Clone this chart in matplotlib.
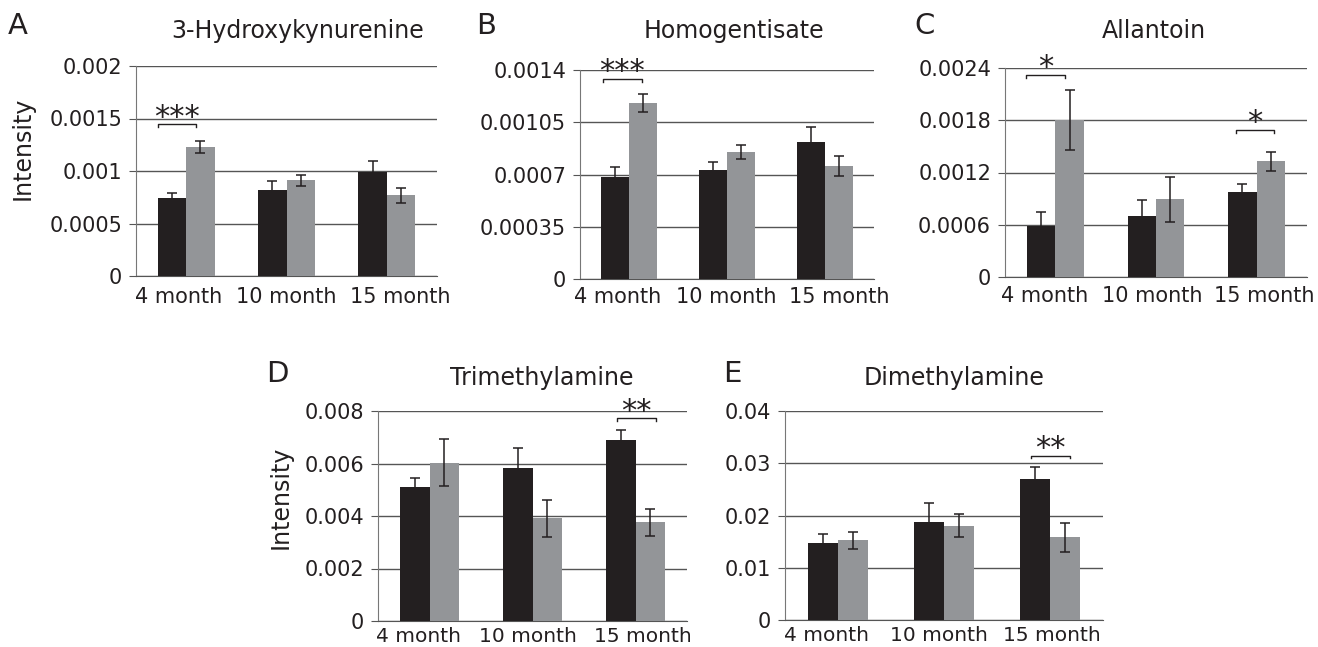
import numpy as np
import matplotlib.pyplot as plt

plt.rcParams['font.family'] = ['DejaVu Sans']

months = ['4 month', '10 month', '15 month']

# 3-Hydroxykynurenine
hk_dark = [0.000743, 0.000816, 0.000994]
hk_dark_err = [0.00005, 0.00009, 0.0001]
hk_grey = [0.001231, 0.000911, 0.000768]
hk_grey_err = [0.000055, 0.000054, 0.00007]

# Homogentisate
hg_dark = [0.000682, 0.000731, 0.000919]
hg_dark_err = [0.00007, 0.000052, 0.0001]
hg_grey = [0.001179, 0.000852, 0.000754]
hg_grey_err = [0.000058, 0.000047, 0.000067]

# Allantoin
al_dark = [0.000589, 0.000697, 0.000976]
al_dark_err = [0.00016, 0.00019, 0.000088]
al_grey = [0.001803, 0.000892, 0.001329]
al_grey_err = [0.00035, 0.000256, 0.00011]

# Trimethylamine
tma_dark = [0.005112, 0.005814, 0.006894]
tma_dark_err = [0.00034, 0.00079, 0.0004]
tma_grey = [0.006028, 0.003918, 0.003754]
tma_grey_err = [0.0009, 0.0007, 0.00052]

# Dimethylamine
dma_dark = [0.01477, 0.01873, 0.02689]
dma_dark_err = [0.0017, 0.0037, 0.0023]
dma_grey = [0.01523, 0.01802, 0.0158]
dma_grey_err = [0.0017, 0.0022, 0.0028]

DARK = '#231f20'
GREY = '#939598'
GRID = '#555555'

W, H = 1318, 647
fig = plt.figure(figsize=(W / 100, H / 100), dpi=100)
PT = 0.72  # points per pixel at 100 dpi


def px_axes(left, top, right, bottom):
    return fig.add_axes([left / W, 1 - bottom / H, (right - left) / W, (bottom - top) / H])


def bracket(ax, i, x0, x1, y, stars, ymax):
    tick = 0.013 * ymax
    ax.plot([i + x0, i + x0, i + x1, i + x1], [y - tick, y, y, y - tick],
            color=DARK, lw=1.0, clip_on=False, zorder=4)
    ax.annotate(stars, (i + (x0 + x1) / 2, y), xytext=(0, -1), textcoords='offset points',
                ha='center', va='baseline', fontsize=22, color=DARK, annotation_clip=False)


def panel(box, letter, letter_xy, title, title_xy, ymax, dark, dark_err, grey, grey_err,
          sigs, label_shift=(-10, -3, 8), label_drop=9, label_size=15, ylabel_xy=None):
    ax = px_axes(*box)
    x = np.arange(len(months))
    w = 0.283
    ekw = dict(ecolor=DARK, elinewidth=1.1, capsize=3.5, capthick=1.1)
    ax.bar(x - w / 2, dark, w, color=DARK, yerr=dark_err, error_kw=ekw, zorder=3)
    ax.bar(x + w / 2, grey, w, color=GREY, yerr=grey_err, error_kw=ekw, zorder=3)
    ax.set_xlim(-0.5, 2.5)
    ax.set_ylim(0, ymax)
    ticks = np.linspace(0, ymax, 5)
    ax.set_yticks(ticks)
    ax.set_yticklabels(['0'] + [f'{t:g}' for t in ticks[1:]])
    ax.set_xticks([])
    # month labels, nudged apart so the wide ones don't collide
    for xi, m, dx in zip(x, months, label_shift):
        ax.annotate(m, (xi, 0), xycoords=('data', 'axes fraction'),
                    xytext=(dx * PT, -label_drop * PT), textcoords='offset points',
                    ha='center', va='top', fontsize=label_size, color=DARK,
                    annotation_clip=False)
    ax.yaxis.grid(True, color=GRID, lw=1.0, zorder=0)
    ax.set_axisbelow(True)
    for s in ['top', 'right']:
        ax.spines[s].set_visible(False)
    ax.spines['left'].set_color('#777777')
    ax.spines['bottom'].set_color(GRID)
    ax.tick_params(axis='y', length=5, color=GRID, labelsize=15, pad=5, labelcolor=DARK)
    for i, x0, x1, gap, stars in sigs:
        top = max(dark[i] + dark_err[i], grey[i] + grey_err[i])
        bracket(ax, i, x0, x1, top + gap * ymax, stars, ymax)
    fig.text(letter_xy[0] / W, 1 - letter_xy[1] / H, letter, fontsize=21,
             ha='left', va='top', color=DARK)
    fig.text(title_xy[0] / W, 1 - title_xy[1] / H, title, fontsize=17,
             ha='center', va='baseline', color=DARK)
    if ylabel_xy:
        fig.text(ylabel_xy[0] / W, 1 - ylabel_xy[1] / H, 'Intensity', fontsize=17,
                 rotation=90, ha='center', va='center', color=DARK)
    return ax


panel((136, 66, 437, 276), 'A', (8, 12), '3-Hydroxykynurenine', (298, 38), 0.002,
      hk_dark, hk_dark_err, hk_grey, hk_grey_err,
      [(0, -0.284, 0.095, 0.08, '***')], label_shift=(-8, 0, 13), label_drop=11,
      ylabel_xy=(23, 148))
panel((580, 70, 874, 279), 'B', (476, 12), 'Homogentisate', (734, 38), 0.0014,
      hg_dark, hg_dark_err, hg_grey, hg_grey_err,
      [(0, -0.265, 0.13, 0.074, '***')], label_shift=(-11, -1, 14), label_drop=8)
panel((1005, 68, 1307, 277), 'C', (914, 12), 'Allantoin', (1154, 38), 0.0024,
      al_dark, al_dark_err, al_grey, al_grey_err,
      [(0, -0.287, 0.094, 0.069, '*'), (2, -0.21, 0.17, 0.104, '*')],
      label_shift=(-11, -4, 8))
panel((378, 411, 687, 621), 'D', (266, 360), 'Trimethylamine', (542, 385), 0.008,
      tma_dark, tma_dark_err, tma_grey, tma_grey_err,
      [(2, -0.176, 0.199, 0.054, '**')], label_shift=(-11, -5, 7), label_drop=6,
      label_size=14.5, ylabel_xy=(281, 497))
panel((785, 411, 1103, 620), 'E', (723, 360), 'Dimethylamine', (954, 385), 0.04,
      dma_dark, dma_dark_err, dma_grey, dma_grey_err,
      [(2, -0.178, 0.188, 0.057, '**')], label_shift=(-11, -5, 2), label_drop=6,
      label_size=14.5)

fig.savefig('out.png', dpi=100)
